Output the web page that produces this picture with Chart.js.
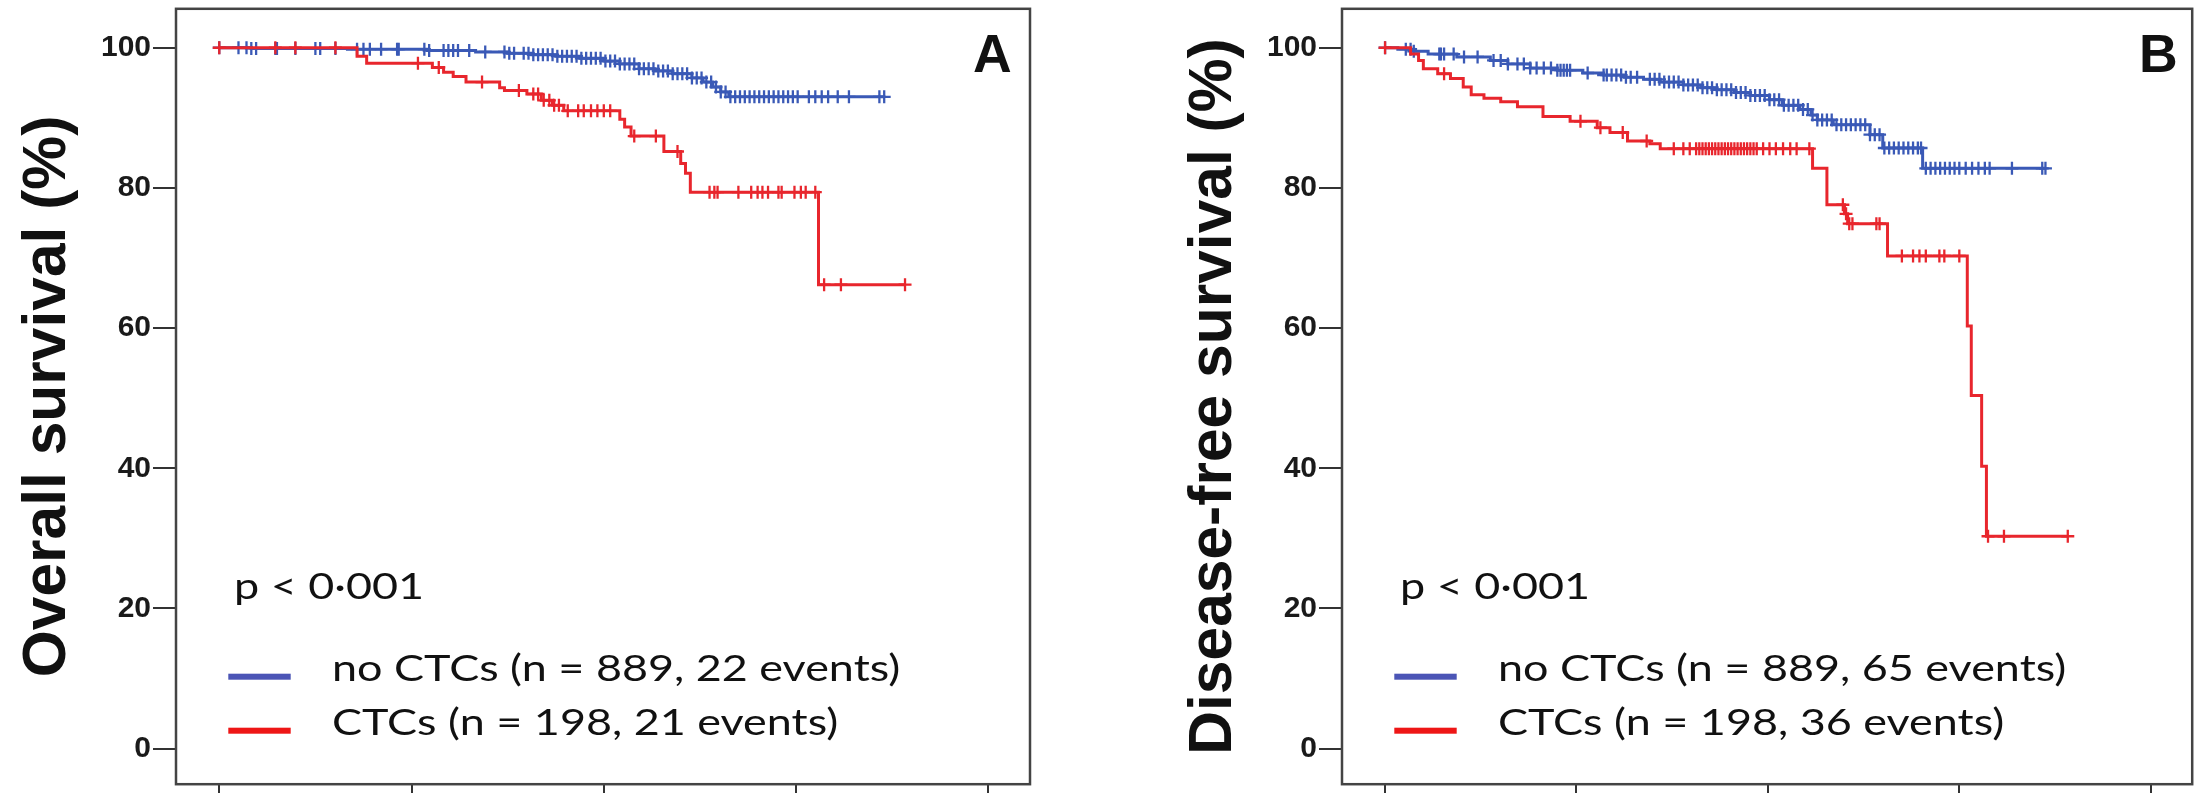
<!DOCTYPE html>
<html>
<head>
<meta charset="utf-8">
<title>Survival by CTC status</title>
<script src="https://cdn.jsdelivr.net/npm/chart.js@4.4.1/dist/chart.umd.min.js"></script>
<style>
  html, body { margin: 0; padding: 0; background: #fff; }
  #wrap { position: relative; width: 2201px; height: 793px; overflow: hidden; }
  .panel { position: absolute; top: 0; height: 793px; }
</style>
</head>
<body>
<div id="wrap">
  <div class="panel" style="left:0;width:1100px"><canvas id="chartA" width="1100" height="793"></canvas></div>
  <div class="panel" style="left:1100px;width:1101px"><canvas id="chartB" width="1101" height="793"></canvas></div>
</div>
<script>
// Kaplan-Meier curves, time in months (axis labels are cropped)

// --- Panel A: overall survival ---
const osNoCtcTimes = [2, 8, 13, 16, 18, 19.5, 21, 22.5, 24, 25, 26.2, 27.2, 28.3, 29.5, 30.2, 30.8, 31.3, 31.8];
const osNoCtcSurv  = [99.9, 99.8, 99.6, 99.4, 99.2, 99.0, 98.8, 98.5, 98.1, 97.7, 97.0, 96.7, 96.3, 95.7, 95.1, 94.4, 93.7, 93.0];
const osNoCtcEnd = 41.5;
const osNoCtcCensor = [0, 1.2, 1.7, 2.0, 2.3, 3.5, 3.6, 4.75, 6.0, 6.3, 7.25, 8.6, 9.0, 9.4, 10.1, 11.1, 11.2,
  12.8, 13.1, 14.0, 14.3, 14.6, 14.9, 15.6, 16.6, 17.8, 18.1, 18.4,
  19.0, 19.3, 19.6, 19.9, 20.2, 20.5, 20.8, 21.1, 21.4, 21.7, 22.0, 22.3, 22.6, 22.9, 23.2, 23.5, 23.8,
  24.1, 24.4, 24.7, 25.0, 25.3, 25.6, 25.9, 26.2, 26.5, 26.8, 27.1, 27.4, 27.7, 28.0, 28.3, 28.6, 28.9,
  29.2, 29.5, 29.8, 30.1, 30.4, 30.7, 31.0, 31.3, 31.6, 31.9, 32.2, 32.5, 32.8, 33.1, 33.4, 33.7, 34.0,
  34.3, 34.6, 34.9, 35.2, 35.5, 35.8, 36.1, 36.8, 37.2, 37.6, 38.0, 38.6, 39.3, 41.2, 41.5];

const osCtcTimes = [8.6, 9.2, 13.3, 14.0, 14.6, 15.4, 17.5, 17.8, 19.2, 20.1, 20.8, 21.5, 25.0, 25.3, 25.7, 27.75, 28.8, 29.1, 29.4, 37.4];
const osCtcSurv  = [98.8, 97.8, 97.2, 96.5, 95.9, 95.1, 94.3, 93.9, 93.4, 92.5, 91.8, 91.0, 89.8, 88.7, 87.4, 85.2, 83.5, 82.1, 79.4, 66.2];
const osCtcEnd = 42.8;
const osCtcCensor = [0, 3.5, 4.75, 7.25, 12.4, 13.7, 16.4, 18.7, 19.6, 19.9, 20.25, 20.6, 20.9, 21.2, 21.75,
  22.4, 22.75, 23.2, 23.6, 24.0, 24.4, 25.9, 27.25, 28.6, 30.6, 30.9, 31.1, 32.4, 33.2, 33.6, 33.9,
  34.25, 34.9, 35.1, 35.9, 36.3, 36.6, 37.2, 37.75, 38.8, 42.8];

// --- Panel B: disease-free survival ---
const dfsNoCtcTimes = [0.8, 1.8, 2.7, 4.5, 6.6, 7.7, 9.1, 10.8, 12.4, 13.7, 15.0, 16.2, 17.25, 18.7, 19.8,
  20.8, 21.9, 22.9, 24.1, 24.9, 26.0, 26.7, 27.1, 28.1, 30.4, 31.2, 33.7];
const dfsNoCtcSurv  = [99.8, 99.5, 99.1, 98.7, 98.2, 97.7, 97.1, 96.8, 96.4, 96.1, 95.8, 95.5, 95.1, 94.7, 94.3,
  94.0, 93.6, 93.2, 92.6, 91.8, 91.2, 90.4, 89.7, 89.0, 87.6, 85.7, 82.8];
const dfsNoCtcEnd = 41.4;
const dfsNoCtcCensor = [0, 1.3, 1.6, 1.8, 3.4, 3.5, 3.7, 4.3, 4.95, 5.8, 6.8, 7.25, 7.7, 8.3, 8.7, 9.1, 9.5,
  9.95, 10.4, 10.8, 11.0, 11.2, 11.4, 11.6, 12.7, 13.7, 13.9, 14.2, 14.5, 14.8, 15.1, 15.4, 15.8, 16.6,
  16.9, 17.2, 17.5, 17.8, 18.1, 18.4, 18.7, 19.0, 19.3, 19.6, 19.9, 20.2, 20.5, 20.8, 21.1, 21.4, 21.7,
  22.0, 22.3, 22.6, 22.9, 23.2, 23.5, 23.8, 24.1, 24.4, 24.7, 25.0, 25.3, 25.6, 25.9, 26.2, 26.5, 26.8,
  27.1, 27.4, 27.7, 28.0, 28.3, 28.6, 28.9, 29.2, 29.5, 29.8, 30.1, 30.4, 30.7, 31.0, 31.3, 31.6, 31.9,
  32.2, 32.5, 32.8, 33.1, 33.4, 33.6, 33.9, 34.2, 34.5, 34.8, 35.1, 35.4, 35.7, 36.0, 36.4, 36.8, 37.2,
  37.6, 37.9, 39.3, 41.2, 41.4];

const dfsCtcTimes = [1.6, 2.1, 2.4, 3.3, 4.1, 4.9, 5.4, 6.2, 7.25, 8.3, 9.9, 11.6, 13.3, 14.1, 15.2, 16.6,
  17.25, 26.8, 27.7, 28.8, 29.0, 31.5, 36.5, 36.75, 37.4, 37.7];
const dfsCtcSurv  = [99.1, 98.2, 97.0, 96.3, 95.6, 94.4, 93.3, 92.8, 92.3, 91.6, 90.2, 89.5, 88.6, 87.9, 86.7, 86.3,
  85.6, 82.8, 77.6, 76.3, 74.9, 70.3, 60.3, 50.4, 40.3, 30.3];
const dfsCtcEnd = 42.8;
const dfsCtcCensor = [0, 3.7, 12.25, 13.5, 14.9, 16.4, 18.1, 18.7, 19.1, 19.5, 19.7, 19.9, 20.1, 20.3, 20.5,
  20.7, 20.9, 21.1, 21.3, 21.5, 21.7, 21.9, 22.1, 22.3, 22.5, 22.7, 22.9, 23.1, 23.3, 23.7, 24.1, 24.5,
  24.95, 25.4, 25.8, 26.6, 28.7, 28.9, 29.1, 29.3, 30.8, 31.0, 32.4, 33.1, 33.5, 33.9, 34.75, 35.06, 36.0,
  37.8, 38.8, 42.8];

// labels
const osLegend  = ['no CTCs (n = 889, 22 events)', 'CTCs (n = 198, 21 events)'];
const dfsLegend = ['no CTCs (n = 889, 65 events)', 'CTCs (n = 198, 36 events)'];
const pValueText = 'p < 0·001';
const yTickStep = 20;
const xTickStep = 12;

const BLUE = '#3a59b6';
const RED = '#e8262d';
const SWATCH = ['#4b55b6', '#ee1616'];

Chart.defaults.font.family = '"Liberation Sans", Arial, sans-serif';

// step function value at time t
function survivalAt(times, surv, t) {
  let s = 100;
  for (let i = 0; i < times.length; i++) {
    if (times[i] <= t) s = surv[i];
  }
  return s;
}

function curvePoints(times, surv, end) {
  const pts = [{ x: 0, y: 100 }];
  times.forEach((t, i) => pts.push({ x: t, y: surv[i] }));
  pts.push({ x: end, y: surv[surv.length - 1] });
  return pts;
}

function censorPoints(times, surv, censor) {
  return censor.map(t => ({ x: t, y: survivalAt(times, surv, t) }));
}

function kmDatasets(color, order, times, surv, end, censor) {
  return [
    {
      data: curvePoints(times, surv, end),
      showLine: true, stepped: true, borderColor: color, borderWidth: 3,
      pointRadius: 0, fill: false, order: order
    },
    {
      data: censorPoints(times, surv, censor),
      showLine: false, pointStyle: 'cross', pointRadius: 6.5, pointBorderWidth: 2.3,
      borderColor: color, backgroundColor: color, order: order
    }
  ];
}

// box round the plot area
const panelFrame = {
  id: 'panelFrame',
  afterDraw(chart) {
    const { ctx, chartArea: a } = chart;
    ctx.save();
    ctx.strokeStyle = '#444';
    ctx.lineWidth = 2.5;
    ctx.strokeRect(a.left, a.top, a.right - a.left, a.bottom - a.top);
    ctx.restore();
  }
};

// panel letter, p value and legend (legend text is stretched wide in the original)
const kmAnnot = {
  id: 'kmAnnot',
  afterDraw(chart, args, opts) {
    const { ctx, chartArea: a } = chart;
    ctx.save();
    ctx.fillStyle = '#111';
    ctx.textBaseline = 'alphabetic';
    ctx.textAlign = 'left';
    ctx.font = 'bold 53.6px "Liberation Sans"';
    ctx.fillText(opts.letter, a.left + 797, 71.7);

    ctx.font = '37px Lato';
    const m = ctx.measureText(opts.rows[0]);
    const sx = 564.7 / (m.actualBoundingBoxLeft + m.actualBoundingBoxRight);
    const stretched = (text, x, y) => {
      ctx.save();
      ctx.translate(x, y);
      ctx.scale(sx, 1);
      ctx.fillText(text, 0, 0);
      ctx.restore();
    };
    stretched(opts.pText, a.left + 58, 599);

    const baselines = [681, 735];
    opts.rows.forEach((row, i) => {
      ctx.fillStyle = SWATCH[i];
      ctx.fillRect(a.left + 52.3, baselines[i] - 7.3, 62.4, 6);
      ctx.fillStyle = '#111';
      stretched(row, a.left + 156, baselines[i]);
    });
    ctx.restore();
  }
};

function makeChart(id, padLeft, padRight, yTitle, letter, legendRows, series) {
  return new Chart(document.getElementById(id), {
    type: 'scatter',
    data: { datasets: series },
    plugins: [panelFrame, kmAnnot],
    options: {
      responsive: false,
      animation: false,
      layout: { padding: { left: padLeft, right: padRight, top: 7.3, bottom: 0 } },
      plugins: {
        legend: { display: false },
        tooltip: { enabled: false },
        kmAnnot: { letter: letter, pText: pValueText, rows: legendRows }
      },
      scales: {
        x: {
          type: 'linear', min: -2.7, max: 50.6,
          border: { display: false },
          grid: { drawOnChartArea: false, drawTicks: true, tickLength: 12, color: '#333', lineWidth: 2 },
          ticks: { display: false, stepSize: xTickStep, includeBounds: false },
          afterFit: s => { s.height = 2.3; s.paddingLeft = 0; s.paddingRight = 0; }
        },
        y: {
          type: 'linear', min: -5.08, max: 105.56,
          border: { display: false },
          grid: { drawOnChartArea: false, drawTicks: true, tickLength: 23, color: '#333', lineWidth: 2 },
          ticks: {
            stepSize: yTickStep, includeBounds: false, padding: 2, color: '#1a1a1a',
            font: { size: 30, weight: 'bold' }
          },
          title: {
            display: true, text: yTitle, color: '#111',
            font: { size: 60.5, weight: 'bold' },
            padding: { top: 12, bottom: 0 }
          },
          afterFit: s => { s.width = 176; s.paddingTop = 0; s.paddingBottom = 0; }
        }
      }
    }
  });
}

makeChart('chartA', 0, 70, 'Overall survival (%)', 'A', osLegend, [
  ...kmDatasets(RED, 0, osCtcTimes, osCtcSurv, osCtcEnd, osCtcCensor),
  ...kmDatasets(BLUE, 1, osNoCtcTimes, osNoCtcSurv, osNoCtcEnd, osNoCtcCensor)
]);

makeChart('chartB', 66, 7, 'Disease-free survival (%)', 'B', dfsLegend, [
  ...kmDatasets(RED, 0, dfsCtcTimes, dfsCtcSurv, dfsCtcEnd, dfsCtcCensor),
  ...kmDatasets(BLUE, 1, dfsNoCtcTimes, dfsNoCtcSurv, dfsNoCtcEnd, dfsNoCtcCensor)
]);
</script>
</body>
</html>
